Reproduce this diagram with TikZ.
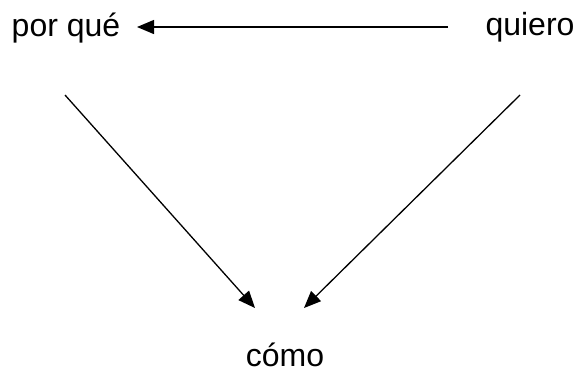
\documentclass[tikz,border=0pt]{standalone}
\usepackage{fontspec}
\setmainfont{Liberation Sans}
\usetikzlibrary{arrows.meta}
\begin{document}
\begin{tikzpicture}[x=0.5pt,y=-0.5pt,
  lbl/.style={anchor=base,inner sep=0pt,font=\fontsize{16}{19}\selectfont},
  conn/.style={line width=0.65pt,-{Triangle[length=8.5pt,width=7pt]}}]
\useasboundingbox (0,0) rectangle (577,370);
\node[lbl] (por) at (66,36) {por qué};
\node[lbl] (quiero) at (530,35) {quiero};
\node[lbl] (como) at (285,366) {cómo};
\coordinate (h1) at (448,27);
\coordinate (h2) at (137,27);
\coordinate (l1) at (65,95);
\coordinate (l2) at (255,308);
\coordinate (r1) at (520,95);
\coordinate (r2) at (304,308);
\draw[conn] (h1) -- (h2);
\draw[conn] (l1) -- (l2);
\draw[conn] (r1) -- (r2);
\end{tikzpicture}
\end{document}
